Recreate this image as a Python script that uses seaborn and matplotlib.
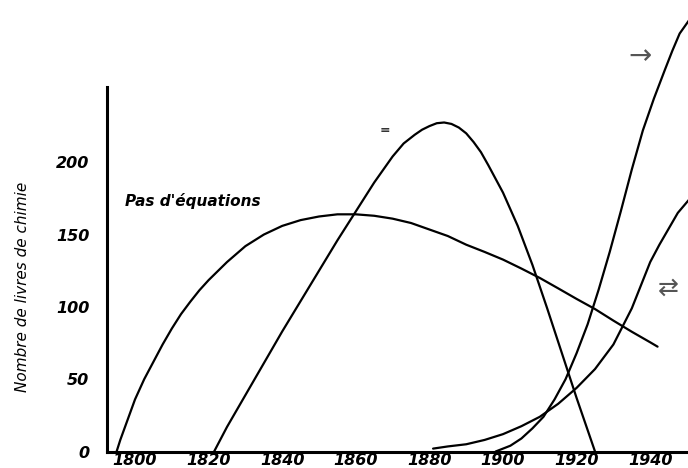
import matplotlib
matplotlib.use("Agg")
import matplotlib.pyplot as plt
import seaborn as sns
import pandas as pd

# Values (year, number of books)
years_pas = [1795, 1796, 1797, 1800, 1802.5, 1805, 1807.5, 1810, 1812.5, 1815, 1817.5, 1820, 1825,
             1830, 1835, 1840, 1845, 1850, 1855, 1860, 1865, 1870, 1875, 1880, 1885, 1890, 1895,
             1900, 1905, 1910, 1915, 1920, 1925, 1930, 1935, 1940, 1942]
books_pas = [0, 8, 15, 36, 50, 62, 74, 85, 95, 103.5, 111.5, 118.5, 131,
             142, 150, 156, 160, 162.5, 164, 164, 163, 161, 158, 153.5, 149, 143, 138,
             132.7, 126.5, 120, 112.8, 105.5, 98.5, 90.5, 82.8, 75.5, 72.5]

years_eq = [1821.5, 1825, 1830, 1835, 1840, 1845, 1850, 1855, 1860, 1865, 1870, 1873, 1876, 1878,
            1880, 1882, 1884, 1886, 1888, 1890, 1892, 1894, 1896, 1900, 1904, 1908, 1912, 1916,
            1920, 1925]
books_eq = [0, 17, 39, 61, 83, 104, 125, 146, 166, 186, 204, 213, 219, 222.5,
            225, 227, 227.5, 226.5, 224, 220, 214, 207, 198, 179, 156, 129, 99, 68,
            37, 0]

years_fwd = [1898, 1902, 1905, 1908, 1911, 1914, 1917, 1920, 1923, 1926, 1929, 1932, 1935, 1938,
             1941, 1944, 1946, 1948, 1950.5]
books_fwd = [0, 4, 9, 16, 24, 36, 50, 68, 88, 112, 138, 166, 195, 222,
             244, 264, 277, 289, 298]

years_rev = [1881, 1885, 1890, 1895, 1900, 1905, 1910, 1915, 1920, 1925, 1930, 1935, 1937.5, 1940,
             1942.5, 1945, 1947.5, 1950.5]
books_rev = [2, 3.5, 5, 8, 12, 17.5, 24, 33, 44, 57, 74, 99, 115, 131,
             143, 154, 165, 174]

x_ticks = [1800, 1820, 1840, 1860, 1880, 1900, 1920, 1940]
y_ticks = [0, 50, 100, 150, 200]

series = {
    "Pas d'équations": (years_pas, books_pas),
    "=": (years_eq, books_eq),
    "→": (years_fwd, books_fwd),
    "⇄": (years_rev, books_rev),
}

sns.set_theme(style="white")
plt.rcParams["font.family"] = ["DejaVu Sans"]

fig = plt.figure(figsize=(6.88, 4.68), dpi=100)
ax = fig.add_axes([107.3 / 688, 16.5 / 468, (688 - 107.3) / 688, 451.5 / 468])

for name, (xs, ys) in series.items():
    df = pd.DataFrame({"annee": xs, "livres": ys})
    sns.lineplot(data=df, x="annee", y="livres", ax=ax, color="black", lw=1.6,
                 sort=False, estimator=None, solid_joinstyle="round")

ax.set_xlim(1792.47, 1950.27)
ax.set_ylim(0, 312.2)
ax.set_xticks(x_ticks)
ax.set_yticks(y_ticks)
ax.set_xticklabels([str(v) for v in x_ticks], fontsize=11.5, fontweight="bold", fontstyle="italic",
                   color="black")
ax.set_yticklabels([str(v) for v in y_ticks], fontsize=11.5, fontweight="bold", fontstyle="italic",
                   color="black")
ax.tick_params(axis="x", length=0, pad=1)
ax.tick_params(axis="y", length=0, pad=13)
ax.set_xlabel("")
ax.set_ylabel("")

for side in ["top", "right"]:
    ax.spines[side].set_visible(False)
for side in ["left", "bottom"]:
    ax.spines[side].set_color("black")
    ax.spines[side].set_linewidth(2.2)
ax.spines["left"].set_bounds(0, 252)

# curve labels
ax.text(1797.3, 173, "Pas d'équations", fontsize=11, fontweight="bold", fontstyle="italic",
        ha="left", va="center", color="black")
ax.text(1867.9, 222, "=", fontsize=9, fontweight="bold", ha="center", va="center", color="#333333")
ax.text(1937.2, 273.5, "→", fontsize=20, ha="center", va="center", color="#555555")
ax.text(1944.8, 113, "⇄", fontsize=18, ha="center", va="center", color="#555555")

fig.text(23 / 688, 1 - 287 / 468, "Nombre de livres de chimie", rotation=90,
         ha="center", va="center", fontsize=11, fontstyle="italic",
         family=["Liberation Sans Narrow", "DejaVu Sans"], color="black")

fig.savefig("out.png", dpi=100)
